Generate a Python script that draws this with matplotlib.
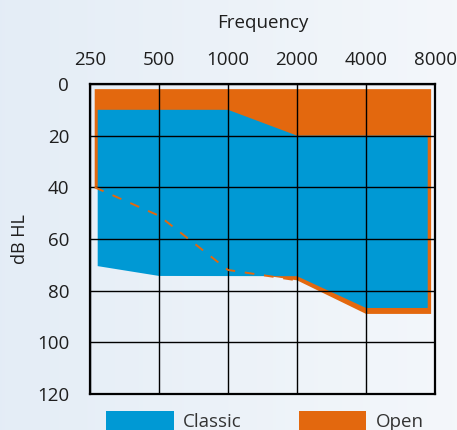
import matplotlib
matplotlib.use("Agg")
import matplotlib.pyplot as plt
from matplotlib.patches import Rectangle
import numpy as np

plt.rcParams['font.family'] = ['Open Sans', 'DejaVu Sans']

# frequencies of the x axis
freq_ticks = [250, 500, 1000, 2000, 4000, 8000]
db_ticks = [0, 20, 40, 60, 80, 100, 120]

# "Open" fitting range (orange)
open_top_freq = [262, 7690]
open_top_db = [2, 2]
open_bottom_freq = [262, 500, 1000, 2000, 4000, 7690]
open_bottom_db = [40, 51, 72, 76, 89, 89]

# "Classic" fitting range (blue)
classic_top_freq = [270, 1000, 2000, 7430]
classic_top_db = [10, 10, 20, 20]
classic_bottom_freq = [270, 500, 2000, 4000, 7430]
classic_bottom_db = [70.5, 74.3, 74.4, 86.7, 86.7]

# dashed line = hidden lower border of "Open"
dash_freq = [262, 500, 1000, 2000]
dash_db = [40, 51, 72, 76]

blue = '#0099d4'
orange = '#e3680e'

fig = plt.figure(figsize=(4.57, 4.30), dpi=100)

# light gradient background
bg = fig.add_axes([0, 0, 1, 1], zorder=-1)
grad = np.linspace(0, 1, 256).reshape(1, -1)
c0 = np.array([0.894, 0.929, 0.965])
c1 = np.array([0.957, 0.969, 0.984])
img = c0[None, None, :] * (1 - grad[..., None]) + c1[None, None, :] * grad[..., None]
bg.imshow(img, aspect='auto', extent=[0, 1, 0, 1])
bg.axis('off')

ax = fig.add_axes([0.197, 0.0837, 0.755, 0.721])
ax.set_facecolor('none')

# orange polygon
ox = list(open_top_freq) + list(open_bottom_freq[::-1])
oy = list(open_top_db) + list(open_bottom_db[::-1])
ax.fill(ox, oy, color=orange, lw=0, zorder=1)

# blue polygon
cx = list(classic_top_freq) + list(classic_bottom_freq[::-1])
cy = list(classic_top_db) + list(classic_bottom_db[::-1])
ax.fill(cx, cy, color=blue, lw=0, zorder=2)

ax.plot(dash_freq, dash_db, color=orange, lw=1.4, dashes=(5, 5), zorder=3)

ax.set_xscale('log')
ax.set_xlim(250, 8000)
ax.set_ylim(120, 0)
ax.set_xticks(freq_ticks)
ax.set_xticklabels([str(f) for f in freq_ticks])
ax.minorticks_off()
ax.set_yticks(db_ticks)
ax.xaxis.tick_top()
ax.xaxis.set_label_position('top')
ax.tick_params(length=0, labelsize=13.5, colors='#1e1e1e')
ax.tick_params(axis='x', pad=11)
ax.tick_params(axis='y', pad=15)
ax.grid(True, color='black', lw=1.0, zorder=4)
ax.set_axisbelow(False)
for s in ax.spines.values():
    s.set_linewidth(1.6)
    s.set_color('black')
    s.set_zorder(5)

ax.set_xlabel('Frequency', fontsize=13.5, color='#1e1e1e', labelpad=16)
ax.set_ylabel('dB HL', fontsize=13, color='#1e1e1e', labelpad=6)

# legend boxes at the bottom
fig.add_artist(Rectangle((106 / 457, -0.02), 68 / 457, 0.064, transform=fig.transFigure,
                         color=blue, lw=0))
fig.text(183 / 457, 0.006, 'Classic', fontsize=13.5, color='#333333', va='baseline')
fig.add_artist(Rectangle((299 / 457, -0.02), 67 / 457, 0.064, transform=fig.transFigure,
                         color=orange, lw=0))
fig.text(376 / 457, 0.006, 'Open', fontsize=13.5, color='#333333', va='baseline')

fig.savefig('out.png', dpi=100)
